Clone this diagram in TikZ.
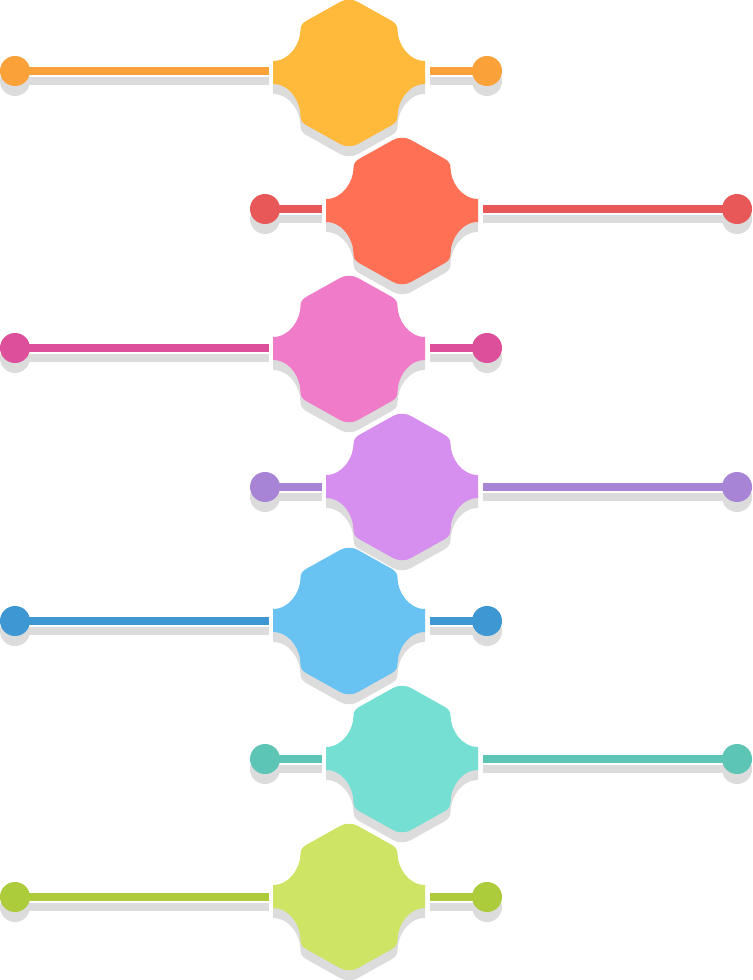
\documentclass[tikz,border=0pt]{standalone}
\usetikzlibrary{shadows, backgrounds}
\definecolor{shadowgray}{HTML}{DCDCDC}
\definecolor{orangefill}{HTML}{FFB93B}
\definecolor{orangeline}{HTML}{FAA13A}
\definecolor{redfill}{HTML}{FF7055}
\definecolor{redline}{HTML}{E85858}
\definecolor{pinkfill}{HTML}{F07CC9}
\definecolor{pinkline}{HTML}{DE4F9B}
\definecolor{purplefill}{HTML}{D78FEF}
\definecolor{purpleline}{HTML}{A884D6}
\definecolor{bluefill}{HTML}{69C3F2}
\definecolor{blueline}{HTML}{3D97D3}
\definecolor{tealfill}{HTML}{74DFD2}
\definecolor{tealline}{HTML}{5CC5B5}
\definecolor{greenfill}{HTML}{CDE464}
\definecolor{greenline}{HTML}{ADCC3B}
\tikzset{
	dot/.style={circle, minimum size=0.3cm, inner sep=0pt, outer sep=0pt, drop shadow={shadow xshift=0cm, shadow yshift=-0.1cm, fill=shadowgray, opacity=1}},
	link/.style={line width=0.08cm, preaction={draw=shadowgray, line width=0.08cm, transform canvas={yshift=-0.1cm}}},
	octa/.pic={
		\fill[pic actions, preaction={fill=shadowgray, transform canvas={yshift=-0.1cm}}]
			(-9, -71) .. controls (-4, -74) and (4, -74) .. (9, -71) -- (43, -52)
			.. controls (47, -49.5) and (48.5, -47) .. (48.5, -43)
			.. controls (48.5, -30) and (59, -12) .. (76, -12) -- (76, 11)
			.. controls (59, 11) and (48.5, 29) .. (48.5, 43)
			.. controls (48.5, 47) and (47, 49.5) .. (43, 52) -- (9, 71)
			.. controls (4, 74) and (-4, 74) .. (-9, 71) -- (-43, 52)
			.. controls (-47, 49.5) and (-48.5, 47) .. (-48.5, 43)
			.. controls (-48.5, 29) and (-59, 11) .. (-76, 11) -- (-76, -12)
			.. controls (-59, -12) and (-48.5, -30) .. (-48.5, -43)
			.. controls (-48.5, -47) and (-47, -49.5) .. (-43, -52) -- cycle;
		\coordinate (-left) at (-80, 0);
		\coordinate (-right) at (81, 0);
	}
}
\begin{document}
\begin{tikzpicture}[x=0.01cm, y=-0.01cm]
	\useasboundingbox (0, 0) rectangle (752, 980);

	\pic[fill=orangefill] (orange) at (349, 73) {octa};
	\node[dot, fill=orangeline] (orangea) at (15, 71) {};
	\node[dot, fill=orangeline] (orangeb) at (487, 71) {};

	\pic[fill=redfill] (red) at (402, 211) {octa};
	\node[dot, fill=redline] (reda) at (265, 209) {};
	\node[dot, fill=redline] (redb) at (737, 209) {};

	\pic[fill=pinkfill] (pink) at (349, 349) {octa};
	\node[dot, fill=pinkline] (pinka) at (15, 348) {};
	\node[dot, fill=pinkline] (pinkb) at (487, 348) {};

	\pic[fill=purplefill] (purple) at (402, 487) {octa};
	\node[dot, fill=purpleline] (purplea) at (265, 487) {};
	\node[dot, fill=purpleline] (purpleb) at (737, 487) {};

	\pic[fill=bluefill] (blue) at (349, 621) {octa};
	\node[dot, fill=blueline] (bluea) at (15, 621) {};
	\node[dot, fill=blueline] (blueb) at (487, 621) {};

	\pic[fill=tealfill] (teal) at (402, 759) {octa};
	\node[dot, fill=tealline] (teala) at (265, 759) {};
	\node[dot, fill=tealline] (tealb) at (737, 759) {};

	\pic[fill=greenfill] (green) at (349, 897) {octa};
	\node[dot, fill=greenline] (greena) at (15, 897) {};
	\node[dot, fill=greenline] (greenb) at (487, 897) {};

	\begin{scope}[on background layer]
		\draw[link, orangeline] (orangea.center) -- (orangea -| orange-left);
		\draw[link, orangeline] (orangeb.center) -- (orangeb -| orange-right);
		\draw[link, redline] (reda.center) -- (reda -| red-left);
		\draw[link, redline] (redb.center) -- (redb -| red-right);
		\draw[link, pinkline] (pinka.center) -- (pinka -| pink-left);
		\draw[link, pinkline] (pinkb.center) -- (pinkb -| pink-right);
		\draw[link, purpleline] (purplea.center) -- (purplea -| purple-left);
		\draw[link, purpleline] (purpleb.center) -- (purpleb -| purple-right);
		\draw[link, blueline] (bluea.center) -- (bluea -| blue-left);
		\draw[link, blueline] (blueb.center) -- (blueb -| blue-right);
		\draw[link, tealline] (teala.center) -- (teala -| teal-left);
		\draw[link, tealline] (tealb.center) -- (tealb -| teal-right);
		\draw[link, greenline] (greena.center) -- (greena -| green-left);
		\draw[link, greenline] (greenb.center) -- (greenb -| green-right);
	\end{scope}
\end{tikzpicture}
\end{document}
